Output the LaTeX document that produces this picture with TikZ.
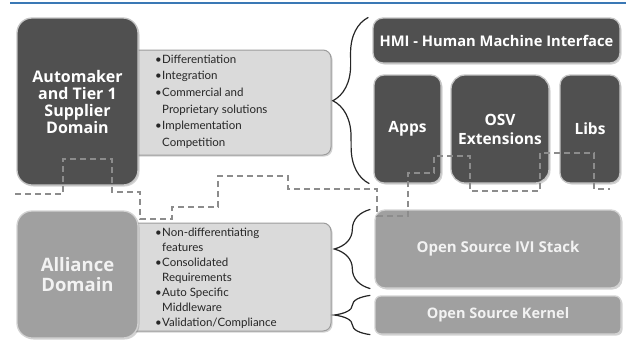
\documentclass[tikz,border=0pt]{standalone}
\usepackage{fontspec}
\setmainfont{Lato}
\newfontfamily\headfont{Open Sans}
\usetikzlibrary{decorations.pathreplacing,shadows}
\definecolor{slab}{HTML}{505050}
\definecolor{slabrim}{HTML}{C4C4C4}
\definecolor{panel}{HTML}{DADADA}
\definecolor{panelrim}{HTML}{9C9C9C}
\definecolor{stone}{HTML}{A0A0A0}
\definecolor{stonerim}{HTML}{D2D2D2}
\definecolor{rule}{HTML}{3A78B5}
\newcommand{\itm}{\makebox[7pt][l]{\textbullet}}
\newcommand{\cnt}{\hspace*{7pt}}
\begin{document}
\begin{tikzpicture}[x=1pt,y=-1pt,
    shade/.style={drop shadow={shadow xshift=1.5pt,shadow yshift=-1.5pt,opacity=0.35}},
    darkbox/.style={shade,rectangle,rounded corners=10pt,fill=slab,draw=slabrim,line width=1.3pt,
      text=white,font=\headfont\bfseries\fontsize{15.5}{19}\selectfont,align=center,inner sep=0pt},
    greybox/.style={shade,rectangle,rounded corners=10pt,fill=stone,draw=stonerim,line width=1.3pt,
      text=white!95!black,font=\headfont\bfseries\fontsize{15}{17}\selectfont,align=center,inner sep=0pt},
    listpanel/.style={shade,rectangle,rounded corners=8pt,fill=panel,draw=panelrim,line width=1pt},
    listtext/.style={anchor=west,align=left,text=black!85,inner sep=0pt},
    bracebar/.style={decorate,decoration={brace,amplitude=36pt},line width=1.2pt,black!85},
    boundary/.style={draw=black!45,line width=1.4pt,dash pattern=on 6pt off 4pt}]
  \useasboundingbox (0,0) rectangle (626,346);
  \draw[rule,line width=1.5pt] (10,3) -- (626,3);

  % side panels with the bullet lists
  \node[listpanel,minimum width=206pt,minimum height=105pt] (autopanel) at (228,102.5) {};
  \node[listpanel,minimum width=206pt,minimum height=108pt] (allipanel) at (228,277) {};
  \node[listtext,font=\fontsize{11.5}{16.6}\selectfont] (autolist) at (155,101.5)
    {\itm Differentiation\\ \itm Integration\\ \itm Commercial and\\ \cnt Proprietary solutions\\
     \itm Implementation\\ \cnt Competition};
  \node[listtext,font=\fontsize{11.5}{15}\selectfont] (allilist) at (155,278)
    {\itm Non-differentiating\\ \cnt features\\ \itm Consolidated\\ \cnt Requirements\\
     \itm Auto Specific\\ \cnt Middleware\\ \itm Validation/Compliance};

  % domains
  \node[darkbox,rounded corners=15pt,minimum width=121pt,minimum height=167pt,
    font=\headfont\bfseries\fontsize{16}{17}\selectfont] (automaker) at (77.5,101.5)
    {Automaker\\and Tier 1\\Supplier\\Domain};
  \node[greybox,rounded corners=15pt,minimum width=121pt,minimum height=127pt,
    font=\headfont\bfseries\fontsize{18.5}{20}\selectfont] (alliance) at (77.5,274.5)
    {\raisebox{-2pt}{Alliance}\\\raisebox{-2pt}{Domain}};

  % software stack
  \node[darkbox,minimum width=247pt,minimum height=45pt,
    font=\headfont\bfseries\fontsize{14.7}{17}\selectfont] (hmi) at (496.5,40.5) {HMI - Human Machine Interface};
  \node[darkbox,minimum width=67pt,minimum height=108pt] (apps) at (407.5,129) {Apps};
  \node[darkbox,rounded corners=14pt,minimum width=98pt,minimum height=108pt] (osv) at (500,129) {OSV\\Extensions};
  \node[darkbox,minimum width=60pt,minimum height=108pt] (libs) at (590,129) {Libs};
  \node[greybox,minimum width=246pt,minimum height=78pt] (ivi) at (498,249) {Open Source IVI Stack};
  \node[greybox,rounded corners=6pt,minimum width=246pt,minimum height=38pt,
    font=\headfont\bfseries\fontsize{14.5}{15}\selectfont] (kernel) at (498,315) {Open Source Kernel};

  \draw[bracebar] ([xshift=-4pt]apps.south west) -- ([xshift=-4pt]hmi.north west);
  \draw[bracebar] ([xshift=-4pt]ivi.south west) -- ([xshift=-4pt]ivi.north west);
  \draw[bracebar] ([xshift=-4pt]kernel.south west) -- ([xshift=-4pt]kernel.north west);

  %\draw[boundary] (15,194) -- (610,189);
  \draw[boundary] (15,194) -| (63,159) -| (112,192) -| (140,219) -| (172,207) -| (218,176)
    -| (288,189) -| (377,216) -| (408,173) -| (434,156) -| (470,191) -| (540,153) -| (594,189) -- (610,189);
\end{tikzpicture}
\end{document}
